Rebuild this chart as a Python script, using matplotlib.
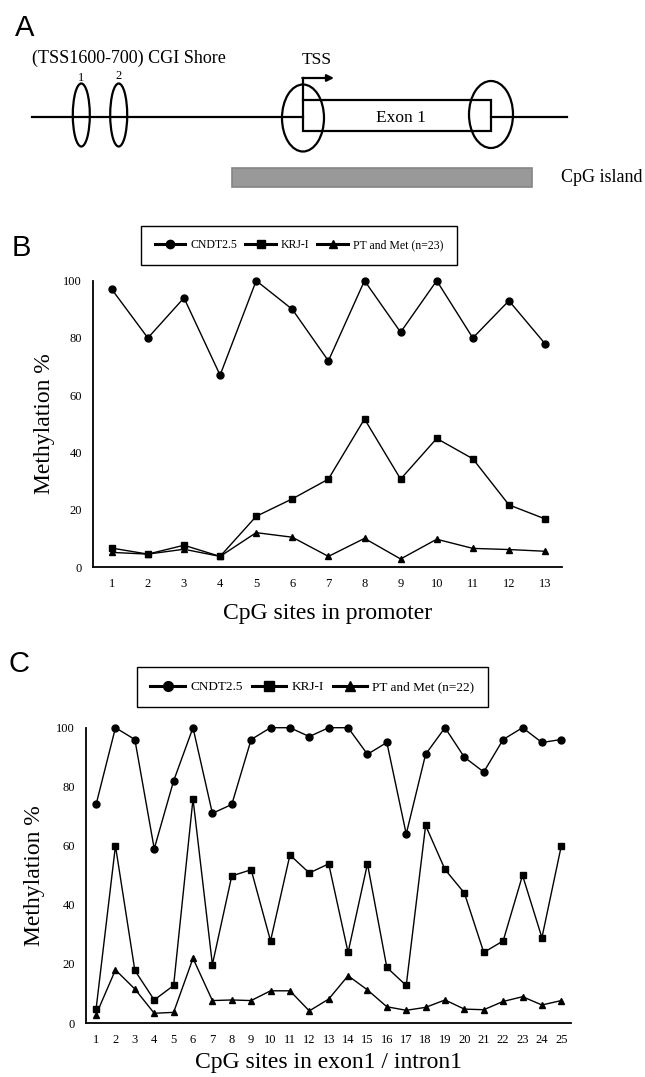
import matplotlib
matplotlib.use("Agg")
import matplotlib.pyplot as plt
from matplotlib.patches import Ellipse, Rectangle

# ---------------- data ----------------
sites_b = list(range(1, 14))
cndt_b = [97, 80, 94, 67, 100, 90, 72, 100, 82, 100, 80, 93, 78]
krj_b = [6.6, 4.5, 7.6, 3.7, 17.7, 23.8, 30.7, 51.7, 30.7, 44.9, 37.8, 21.7, 16.8]
pt_b = [5.1, 4.5, 6.2, 3.7, 12.0, 10.4, 3.7, 10.0, 2.8, 9.7, 6.5, 6.1, 5.5]

sites_c = list(range(1, 26))
cndt_c = [74, 100, 96, 59, 82, 100, 71, 74, 96, 100, 100, 97, 100, 100, 91, 95,
          64, 91, 100, 90, 85, 96, 100, 95, 96]
krj_c = [4.7, 60, 17.8, 7.8, 12.7, 75.9, 19.8, 49.8, 51.9, 27.8, 56.9, 50.8, 53.9,
         23.9, 53.9, 18.8, 12.7, 66.9, 52, 44, 23.9, 27.8, 50, 28.9, 60]
pt_c = [2.8, 18, 11.5, 3.3, 3.6, 21.9, 7.6, 7.8, 7.6, 10.9, 10.9, 4.1, 8.1, 16,
        11.2, 5.5, 4.3, 5.3, 7.8, 4.7, 4.5, 7.3, 8.9, 6.1, 7.6]

yticks = [0, 20, 40, 60, 80, 100]
series_names_b = ["CNDT2.5", "KRJ-I", "PT and Met (n=23)"]
series_names_c = ["CNDT2.5", "KRJ-I", "PT and Met (n=22)"]
markers = ["o", "s", "^"]

W, H = 645, 1077
fig = plt.figure(figsize=(W / 100, H / 100), dpi=100)
serif = "Liberation Serif"
sans = "Liberation Sans"

# overlay axes in pixel coordinates for panel A and panel letters
ov = fig.add_axes([0, 0, 1, 1])
ov.set_xlim(0, W)
ov.set_ylim(H, 0)
ov.axis("off")

for letter, (x, y) in {"A": (25, 28), "B": (21, 248), "C": (19, 664)}.items():
    ov.text(x, y, letter, fontsize=21, family=sans, ha="center", va="center")

# ---- Panel A diagram ----
lw = 1.6
ov.plot([32, 303], [117.3, 117.3], color="black", lw=lw)
ov.plot([491, 567], [117.3, 117.3], color="black", lw=lw)
ov.add_patch(Rectangle((303, 100), 188, 30.7, fill=False, ec="black", lw=lw))
ov.text(401, 117.5, "Exon 1", fontsize=12.5, family=serif, ha="center", va="center")
for cx, cy, lab in [(81.3, 78, "1"), (118.7, 76, "2")]:
    ov.add_patch(Ellipse((cx, 115), 17, 63, fill=False, ec="black", lw=lw))
    ov.text(cx, cy, lab, fontsize=9, family=serif, ha="center", va="center")
ov.add_patch(Ellipse((303, 118), 42, 67, fill=False, ec="black", lw=lw))
ov.add_patch(Ellipse((491, 114.5), 44, 67, fill=False, ec="black", lw=lw))
ov.text(32, 58, "(TSS1600-700) CGI Shore", fontsize=13, family=serif,
        ha="left", va="center")
ov.text(317, 60, "TSS", fontsize=12.5, family=serif, ha="center", va="center")
ov.plot([303, 303], [100, 78], color="black", lw=lw)
ov.annotate("", xy=(334, 78), xytext=(302.3, 78),
            arrowprops=dict(arrowstyle="-|>", color="black", lw=lw,
                            mutation_scale=10, shrinkA=0, shrinkB=0))
ov.add_patch(Rectangle((232, 168), 300, 19, fc="#999999", ec="#858585", lw=1.2))
ov.text(561, 177.5, "CpG island", fontsize=13, family=serif, ha="left", va="center")


def make_axes(l, r, t, b):
    return fig.add_axes([l / W, 1 - b / H, (r - l) / W, (b - t) / H])


def style_axes(ax, sites, xlim):
    ax.set_ylim(0, 100)
    ax.set_xlim(*xlim)
    ax.set_xticks(sites)
    ax.set_xticklabels([str(s) for s in sites], family=serif, fontsize=9)
    ax.set_yticks(yticks)
    ax.set_yticklabels([str(v) for v in yticks], family=serif, fontsize=9)
    ax.tick_params(length=0, pad=8)
    for s in ["top", "right"]:
        ax.spines[s].set_visible(False)
    for s in ["left", "bottom"]:
        ax.spines[s].set_linewidth(1.3)
    ax.patch.set_alpha(0)


def draw_panel(ax, sites, data, names, ms):
    handles = []
    for vals, m, nm in zip(data, markers, names):
        h, = ax.plot(sites, vals, color="black", lw=1.0, marker=m, ms=ms,
                     label=nm, clip_on=False)
        handles.append(h)
    return handles


def make_legend(handles, names, cx, cy, size, pad, msz):
    leg = fig.legend(handles=handles, labels=names, loc="center",
                     bbox_to_anchor=(cx / W, 1 - cy / H), ncol=3,
                     prop={"family": serif, "size": size}, frameon=True,
                     fancybox=False, edgecolor="black", framealpha=1,
                     handlelength=2.6, columnspacing=0.7, handletextpad=0.4,
                     borderpad=pad, borderaxespad=0)
    leg.get_frame().set_linewidth(1.0)
    for ln in leg.get_lines():
        ln.set_linewidth(2.2)
        ln.set_markersize(msz)
    return leg


# ---- Panel B ----
axB = make_axes(93, 562, 280.7, 567)
style_axes(axB, sites_b, (0.48, 13.47))
hB = draw_panel(axB, sites_b, [cndt_b, krj_b, pt_b], series_names_b, 5)
axB.set_ylabel("Methylation %", family=serif, fontsize=17, labelpad=6)
axB.set_xlabel("CpG sites in promoter", family=serif, fontsize=17, labelpad=9)
make_legend(hB, series_names_b, 299, 245.5, 8.5, 1.15, 6)

# ---- Panel C ----
axC = make_axes(86, 571, 727.7, 1023)
style_axes(axC, sites_c, (0.48, 25.5))
hC = draw_panel(axC, sites_c, [cndt_c, krj_c, pt_c], series_names_c, 5)
axC.set_ylabel("Methylation %", family=serif, fontsize=17, labelpad=8)
axC.set_xlabel("CpG sites in exon1 / intron1", family=serif, fontsize=17, labelpad=4)
make_legend(hC, series_names_c, 312.5, 687, 9.5, 1.05, 7)

fig.savefig("out.png", dpi=100)
